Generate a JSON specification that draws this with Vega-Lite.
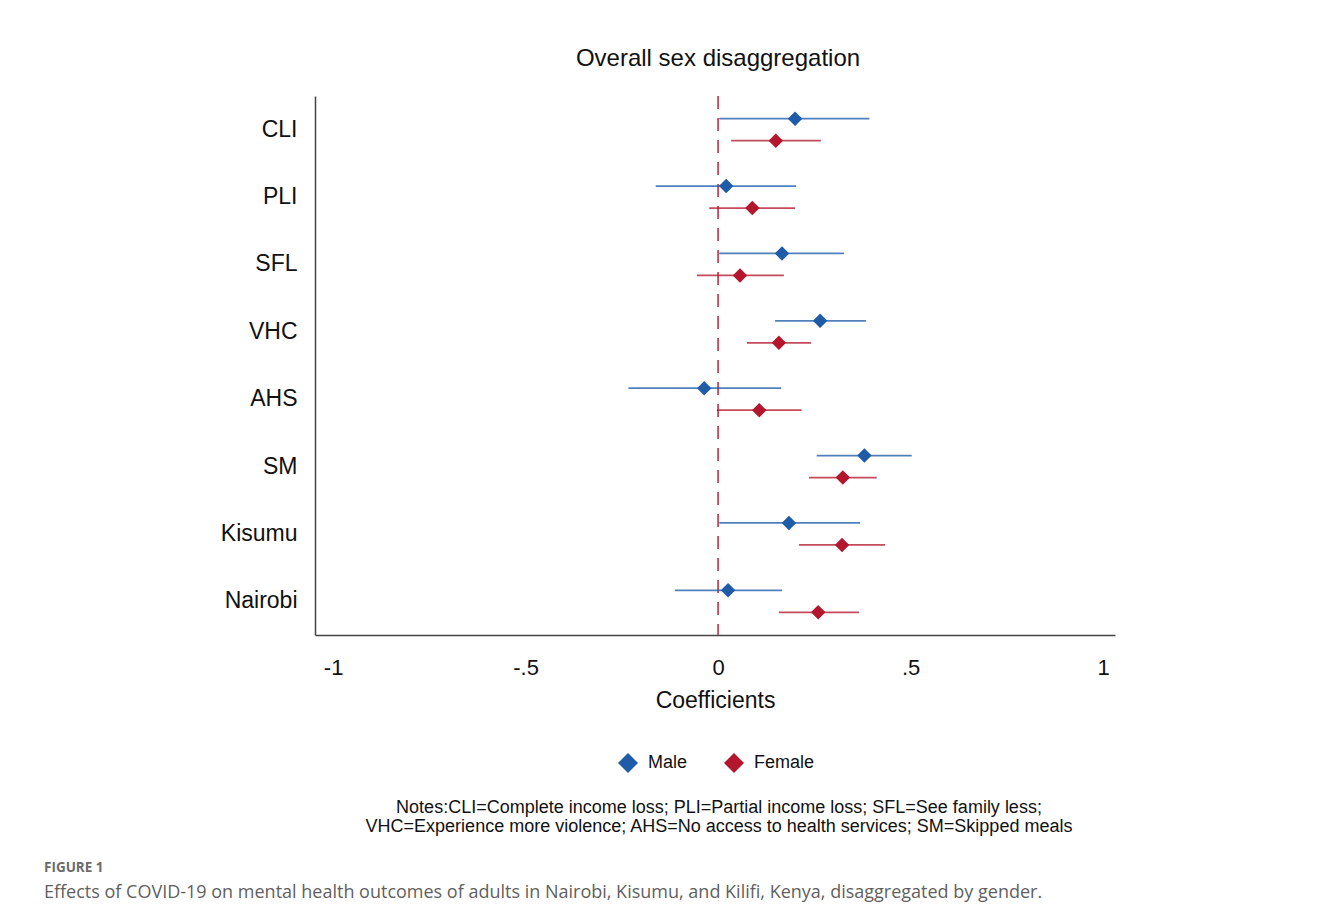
{
  "$schema": "https://vega.github.io/schema/vega-lite/v6.json",
  "background": "white",
  "padding": {"left": 44, "top": 47, "right": 10, "bottom": 10},
  "autosize": {"type": "pad"},
  "bounds": "flush",
  "spacing": 163,
  "title": {
    "text": "FIGURE 1",
    "subtitle": "Effects of COVID-19 on mental health outcomes of adults in Nairobi, Kisumu, and Kilifi, Kenya, disaggregated by gender.",
    "orient": "bottom",
    "anchor": "start",
    "frame": "group",
    "dx": -271,
    "offset": 25,
    "font": "Open Sans",
    "fontSize": 13.5,
    "fontWeight": "bold",
    "color": "#6b6b6b",
    "subtitleFont": "Open Sans",
    "subtitleFontSize": 18,
    "subtitleColor": "#5f5f5f",
    "subtitlePadding": 9
  },
  "datasets": {
    "coef": [
      {"cat": "CLI", "sex": "Male", "est": 0.200, "lo": 0.003, "hi": 0.393},
      {"cat": "CLI", "sex": "Female", "est": 0.150, "lo": 0.034, "hi": 0.267},
      {"cat": "PLI", "sex": "Male", "est": 0.021, "lo": -0.162, "hi": 0.203},
      {"cat": "PLI", "sex": "Female", "est": 0.089, "lo": -0.023, "hi": 0.200},
      {"cat": "SFL", "sex": "Male", "est": 0.166, "lo": 0.003, "hi": 0.327},
      {"cat": "SFL", "sex": "Female", "est": 0.057, "lo": -0.055, "hi": 0.171},
      {"cat": "VHC", "sex": "Male", "est": 0.265, "lo": 0.148, "hi": 0.384},
      {"cat": "VHC", "sex": "Female", "est": 0.158, "lo": 0.075, "hi": 0.242},
      {"cat": "AHS", "sex": "Male", "est": -0.036, "lo": -0.233, "hi": 0.164},
      {"cat": "AHS", "sex": "Female", "est": 0.107, "lo": -0.003, "hi": 0.217},
      {"cat": "SM", "sex": "Male", "est": 0.380, "lo": 0.256, "hi": 0.503},
      {"cat": "SM", "sex": "Female", "est": 0.324, "lo": 0.236, "hi": 0.412},
      {"cat": "Kisumu", "sex": "Male", "est": 0.184, "lo": 0.003, "hi": 0.369},
      {"cat": "Kisumu", "sex": "Female", "est": 0.322, "lo": 0.210, "hi": 0.434},
      {"cat": "Nairobi", "sex": "Male", "est": 0.026, "lo": -0.112, "hi": 0.166},
      {"cat": "Nairobi", "sex": "Female", "est": 0.260, "lo": 0.158, "hi": 0.366}
    ],
    "notes": [
      {"line": 1, "text": "Notes:CLI=Complete income loss; PLI=Partial income loss; SFL=See family less;"},
      {"line": 2, "text": "VHC=Experience more violence; AHS=No access to health services; SM=Skipped meals"}
    ]
  },
  "vconcat": [
    {
      "width": 800,
      "height": 539,
      "title": {
        "text": "Overall sex disaggregation",
        "font": "Liberation Sans",
        "fontSize": 24,
        "fontWeight": "normal",
        "color": "#111111",
        "anchor": "middle",
        "dx": 3,
        "offset": 24
      },
      "layer": [
        {
          "data": {"values": [{"zero": 0}]},
          "mark": {"type": "rule", "color": "#c9465c", "strokeWidth": 1.8, "strokeDash": [13, 9]},
          "encoding": {
            "x": {"field": "zero", "type": "quantitative", "scale": {"domain": [-1.047, 1.031], "nice": false, "zero": false}}
          }
        },
        {
          "data": {"name": "coef"},
          "mark": {"type": "rule", "strokeWidth": 1.8, "strokeOpacity": 0.78},
          "encoding": {
            "x": {"field": "lo", "type": "quantitative"},
            "x2": {"field": "hi"},
            "y": {"field": "cat", "type": "nominal", "sort": ["CLI", "PLI", "SFL", "VHC", "AHS", "SM", "Kisumu", "Nairobi"], "scale": {"paddingInner": 0, "paddingOuter": 0}},
            "yOffset": {"field": "sex", "type": "nominal", "sort": ["Male", "Female"], "scale": {"paddingInner": 0, "paddingOuter": 0.531}},
            "color": {"field": "sex", "type": "nominal"}
          }
        },
        {
          "data": {"name": "coef"},
          "mark": {"type": "point", "shape": "diamond", "filled": true, "size": 210, "opacity": 1},
          "encoding": {
            "x": {
              "field": "est",
              "type": "quantitative",
              "axis": {
                "values": [-1, -0.5, 0, 0.5, 1],
                "labelExpr": "datum.value == -1 ? '-1' : datum.value == -0.5 ? '-.5' : datum.value == 0.5 ? '.5' : datum.value == 1 ? '1' : '0'",
                "title": "Coefficients",
                "grid": false,
                "ticks": false,
                "tickSize": 0,
                "domainColor": "#444444",
                "domainWidth": 1.5,
                "labelFont": "Liberation Sans",
                "labelFontSize": 22,
                "labelColor": "#111111",
                "labelPadding": 22,
                "labelFlush": false,
                "titleFont": "Liberation Sans",
                "titleFontSize": 23,
                "titleFontWeight": "normal",
                "titleColor": "#111111",
                "titlePadding": 11
              }
            },
            "y": {
              "field": "cat",
              "type": "nominal",
              "sort": ["CLI", "PLI", "SFL", "VHC", "AHS", "SM", "Kisumu", "Nairobi"],
              "axis": {
                "title": null,
                "grid": false,
                "ticks": false,
                "tickSize": 0,
                "domainColor": "#444444",
                "domainWidth": 1.5,
                "labelFont": "Liberation Sans",
                "labelFontSize": 23,
                "labelColor": "#111111",
                "labelPadding": 18
              }
            },
            "yOffset": {"field": "sex", "type": "nominal", "sort": ["Male", "Female"]},
            "color": {
              "field": "sex",
              "type": "nominal",
              "scale": {"domain": ["Male", "Female"], "range": ["#1f5ca8", "#b3172e"]},
              "legend": {
                "title": null,
                "orient": "none",
                "direction": "horizontal",
                "legendX": 303,
                "legendY": 657,
                "symbolType": "diamond",
                "symbolSize": 400,
                "symbolStrokeWidth": 0,
                "symbolOpacity": 1,
                "labelFont": "Liberation Sans",
                "labelFontSize": 18,
                "labelColor": "#111111",
                "labelOffset": 10,
                "columnPadding": 36
              }
            }
          }
        }
      ]
    },
    {
      "width": 800,
      "height": 38,
      "data": {"name": "notes"},
      "mark": {"type": "text", "font": "Liberation Sans", "fontSize": 18, "color": "#111111", "align": "center", "baseline": "middle", "dx": 4},
      "encoding": {
        "y": {"field": "line", "type": "quantitative", "scale": {"domain": [0.5, 2.5], "reverse": true}, "axis": null},
        "text": {"field": "text", "type": "nominal"}
      }
    }
  ],
  "config": {
    "view": {"stroke": null},
    "font": "Liberation Sans"
  }
}
